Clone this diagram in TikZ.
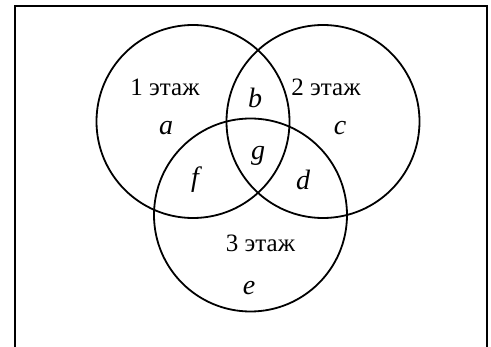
\documentclass[tikz,border=0pt]{standalone}
\usepackage{fontspec}
\setmainfont{Liberation Serif}
\begin{document}
\begin{tikzpicture}[x=1pt,y=-1pt,
  ring/.style={draw=black,line width=1.8pt},
  lbl/.style={font=\fontsize{25}{27}\selectfont,inner sep=0pt},
  var/.style={font=\fontsize{28}{30}\selectfont\itshape,inner sep=0pt}]
\useasboundingbox (0,0) rectangle (491,347);
\clip (0,0) rectangle (491,347);
\draw[line width=2pt,draw=black] (15,6) rectangle (487,360);
\node[ring,circle,minimum size=193pt,inner sep=0pt] (c1) at (193,121.5) {};
\node[ring,circle,minimum size=193pt,inner sep=0pt] (c2) at (323,121.5) {};
\node[ring,circle,minimum size=193pt,inner sep=0pt] (c3) at (250.5,215) {};
\node[lbl] (t1) at (165,87) {1 этаж};
\node[lbl] (t2) at (326,87) {2 этаж};
\node[lbl] (t3) at (260.5,243) {3 этаж};
\node[var] (a) at (166,128) {a};
\node[var] (b) at (255,98) {b};
\node[var] (c) at (340,128) {c};
\node[var] (g) at (258,156) {g};
\node[var] (f) at (195,180) {f};
\node[var] (d) at (303,180) {d};
\node[var] (e) at (249,288) {e};
\end{tikzpicture}
\end{document}
